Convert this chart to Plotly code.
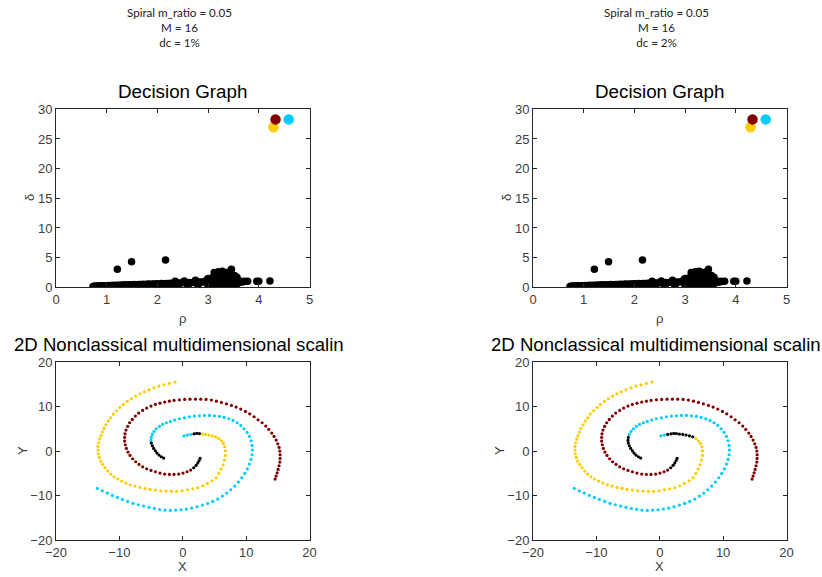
import plotly.graph_objects as go

W, H = 822, 577

# ---------------- Data ----------------
# Decision graph: halo / non-centre points (rho, delta)
BLACK_RHO = [
    0.73, 0.76, 0.79, 0.82, 0.85, 0.88, 0.91, 0.95, 0.99, 1.03,
    1.07, 1.11, 1.15, 1.19, 1.24, 1.28, 1.32, 1.36, 1.40, 1.45,
    1.50, 1.54, 1.58, 1.63, 1.67, 1.72, 1.76, 1.81, 1.85, 1.90,
    1.94, 1.99, 2.03, 2.08, 2.12, 2.17, 2.21, 2.26, 2.30, 2.35,
    2.39, 2.44, 2.48, 2.53, 2.57, 2.62, 2.66, 2.71, 2.75, 2.80,
    2.84, 2.89, 2.93, 2.98,
    0.80, 1.00, 1.20, 1.40, 1.60, 1.80, 2.00, 2.20, 2.40, 2.60, 2.80, 3.00,
    3.00, 3.02, 3.05, 3.08, 3.10, 3.12, 3.15, 3.17, 3.18, 3.20,
    3.22, 3.24, 3.26, 3.28, 3.30, 3.32, 3.33, 3.35, 3.37, 3.38,
    3.40, 3.42, 3.43, 3.45, 3.48, 3.50, 3.52, 3.53, 3.55, 3.57,
    3.58, 3.60, 3.62, 3.65, 3.68, 3.72, 3.25, 3.15, 3.05, 3.35,
    3.45, 3.55,
    1.21, 1.49, 2.16, 3.46, 3.78, 3.96, 4.00, 4.22,
]
BLACK_DELTA = [
    0.15, 0.20, 0.18, 0.22, 0.20, 0.25, 0.22, 0.27, 0.25, 0.30,
    0.28, 0.33, 0.30, 0.36, 0.33, 0.38, 0.36, 0.41, 0.38, 0.43,
    0.41, 0.46, 0.43, 0.48, 0.46, 0.51, 0.48, 0.54, 0.51, 0.56,
    0.54, 0.59, 0.56, 0.62, 0.59, 0.64, 0.62, 0.67, 0.64, 1.00,
    0.70, 0.74, 0.72, 1.05, 0.76, 0.80, 0.78, 0.84, 1.20, 0.86,
    0.90, 0.88, 0.95, 1.30,
    0.05, 0.08, 0.06, 0.10, 0.08, 0.12, 0.10, 0.14, 0.12, 0.16, 0.15, 0.20,
    1.50, 0.60, 1.10, 1.60, 0.80, 2.50, 1.90, 1.20, 0.50, 2.60,
    1.50, 0.90, 2.30, 2.70, 1.70, 1.00, 0.50, 2.20, 2.50, 1.40,
    0.80, 1.90, 2.60, 1.20, 0.60, 1.60, 2.00, 0.90, 1.30, 1.70,
    0.70, 1.10, 0.80, 1.00, 0.90, 1.00, 0.40, 0.40, 0.40, 0.30,
    0.30, 0.40,
    3.03, 4.32, 4.60, 3.05, 1.00, 1.00, 1.00, 1.07,
]
# Decision graph: cluster centres (yellow, dark red, cyan)
CENTER_RHO = [4.29, 4.33, 4.59]
CENTER_DELTA = [26.97, 28.30, 28.30]

# 2D MDS embedding, one arm per cluster, ordered outer end -> inner end
YELLOW_X = [-1.22, -2.11, -2.96, -3.75, -4.53, -5.32, -6.06, -6.75, -7.43, -8.11,
            -8.75, -9.38, -9.90, -10.43, -10.96, -11.38, -11.75, -12.11, -12.43, -12.69,
            -12.90, -13.11, -13.27, -13.38, -13.38, -13.32, -13.17, -12.96, -12.64, -12.27,
            -11.85, -11.38, -10.85, -10.27, -9.64, -8.96, -8.27, -7.53, -6.75, -5.96,
            -5.17, -4.32, -3.48, -2.64, -1.80, -0.96, -0.11, 0.73, 1.57, 2.36,
            3.15, 3.89, 4.62, 5.25, 5.68, 6.05, 6.36, 6.57, 6.73, 6.73,
            6.63, 6.41, 6.10, 5.68, 5.20, 4.68, 4.15, 3.63, 3.10, 2.63,
            2.20, 1.78, 1.26, 0.73, 0.20]
YELLOW_Y = [15.54, 15.24, 14.94, 14.64, 14.26, 13.81, 13.36, 12.91, 12.39, 11.79,
            11.19, 10.51, 9.84, 9.09, 8.34, 7.51, 6.76, 5.94, 5.11, 4.29,
            3.46, 2.71, 1.89, 1.06, 0.24, -0.59, -1.41, -2.24, -2.99, -3.74,
            -4.49, -5.17, -5.77, -6.29, -6.74, -7.19, -7.57, -7.87, -8.17, -8.39,
            -8.62, -8.77, -8.92, -8.99, -9.07, -9.07, -8.92, -8.69, -8.47, -8.24,
            -7.79, -7.27, -6.67, -5.99, -5.02, -4.04, -3.07, -2.01, -0.96, 0.09,
            0.99, 1.74, 2.34, 2.86, 3.24, 3.46, 3.61, 3.76, 3.84, 3.95,
            3.99, 3.91, 3.76, 3.61, 3.46]

RED_X = [14.57, 14.73, 14.89, 15.05, 15.20, 15.31, 15.36, 15.36, 15.31, 15.20,
         14.99, 14.73, 14.41, 14.05, 13.57, 13.10, 12.52, 11.89, 11.26, 10.57,
         9.89, 9.15, 8.42, 7.68, 6.89, 6.10, 5.31, 4.52, 3.68, 2.84,
         2.00, 1.15, 0.31, -0.53, -1.37, -2.11, -2.85, -3.59, -4.32, -5.01,
         -5.69, -6.32, -6.96, -7.48, -7.96, -8.38, -8.69, -8.96, -9.11, -9.17,
         -9.17, -9.06, -8.90, -8.64, -8.32, -7.90, -7.43, -6.90, -6.32, -5.69,
         -5.01, -4.32, -3.59, -2.85, -2.11, -1.38, -0.64, 0.04, 0.68, 1.25,
         1.73, 2.10, 2.36, 2.57, 2.73]
RED_Y = [-6.29, -5.62, -4.87, -4.12, -3.29, -2.47, -1.64, -0.81, 0.01, 0.84,
         1.66, 2.49, 3.31, 4.06, 4.89, 5.64, 6.39, 7.06, 7.74, 8.41,
         8.94, 9.46, 9.91, 10.29, 10.66, 10.96, 11.26, 11.49, 11.64, 11.71,
         11.71, 11.71, 11.64, 11.56, 11.41, 11.26, 11.04, 10.81, 10.51, 10.14,
         9.69, 9.16, 8.56, 7.89, 7.14, 6.39, 5.56, 4.74, 3.91, 3.09,
         2.26, 1.44, 0.61, -0.21, -0.96, -1.71, -2.39, -2.99, -3.52, -3.97,
         -4.34, -4.64, -4.94, -5.17, -5.24, -5.24, -5.17, -4.94, -4.64, -4.27,
         -3.74, -3.21, -2.69, -2.16, -1.64]

CYAN_X = [-13.48, -12.69, -11.90, -11.11, -10.32, -9.53, -8.69, -7.85, -7.01, -6.17,
          -5.32, -4.48, -3.64, -2.80, -1.96, -1.11, -0.27, 0.57, 1.41, 2.25,
          3.10, 3.94, 4.73, 5.52, 6.26, 6.94, 7.57, 8.20, 8.78, 9.31,
          9.78, 10.20, 10.52, 10.78, 10.94, 11.00, 10.94, 10.78, 10.52, 10.15,
          9.68, 9.15, 8.57, 7.94, 7.26, 6.52, 5.78, 4.99, 4.20, 3.42,
          2.63, 1.84, 1.05, 0.26, -0.53, -1.27, -1.96, -2.59, -3.17, -3.69,
          -4.17, -4.53, -4.80, -4.96, -5.01, -4.96, -4.80, -4.59, -4.32, -4.06,
          -3.75, -3.38, -3.01]
CYAN_Y = [-8.39, -8.92, -9.44, -9.97, -10.42, -10.87, -11.32, -11.77, -12.07, -12.37,
          -12.67, -12.89, -13.12, -13.27, -13.34, -13.27, -13.19, -13.04, -12.82, -12.52,
          -12.14, -11.77, -11.32, -10.79, -10.12, -9.44, -8.69, -7.87, -6.97, -5.99,
          -5.02, -3.97, -2.92, -1.86, -0.81, 0.24, 1.29, 2.34, 3.31, 4.21,
          5.04, 5.79, 6.39, 6.91, 7.29, 7.59, 7.81, 7.96, 8.04, 8.04,
          7.96, 7.89, 7.74, 7.51, 7.29, 6.99, 6.69, 6.39, 6.01, 5.56,
          5.04, 4.44, 3.76, 3.09, 2.41, 1.81, 1.21, 0.61, 0.08, -0.44,
          -0.89, -1.26, -1.56]

# Per panel: how many inner-end points of each arm are unassigned (halo, black)
# and, for the yellow arm, how many innermost points were assigned to cyan.
PANEL_DC = ["1%", "2%"]
HALO_TAIL_YELLOW = [3, 9]
CYAN_TAIL_YELLOW = [3, 2]
HALO_TAIL_RED = [5, 5]
HALO_TAIL_CYAN = [8, 10]
M_RATIO = "0.05"
M_VALUE = "16"

# ---------------- Styling ----------------
YELLOW = "#FFCC00"
DARKRED = "#800000"
CYAN = "#00CCFF"
BLACK = "#000000"
AXC = "#262626"
TICKC = "#3c3c3c"
FONT = "Liberation Sans, Arial, sans-serif"

assert len(BLACK_RHO) == len(BLACK_DELTA)
assert len(YELLOW_X) == len(YELLOW_Y)
assert len(RED_X) == len(RED_Y)
assert len(CYAN_X) == len(CYAN_Y)


def px(x):
    return x / W


def py(y):
    return 1 - y / H


fig = go.Figure()

# axis frames in pixels (left column); right column shifted by DX
DX = 477
AX_L, AX_R = 56, 309.5
DG_T, DG_B = 109.3, 287.3
MD_T, MD_B = 362.3, 540.0

annotations = []

for p in range(2):
    off = DX * p
    n = 2 * p
    xa_dg, ya_dg = f"x{n + 1 if n else ''}", f"y{n + 1 if n else ''}"
    xa_md, ya_md = f"x{n + 2}", f"y{n + 2}"

    # decision graph
    fig.add_trace(go.Scatter(x=BLACK_RHO, y=BLACK_DELTA, mode="markers",
                             marker=dict(size=7.5, color=BLACK), xaxis=xa_dg, yaxis=ya_dg,
                             showlegend=False, hoverinfo="skip"))
    for i, col in enumerate([YELLOW, DARKRED, CYAN]):
        fig.add_trace(go.Scatter(x=[CENTER_RHO[i]], y=[CENTER_DELTA[i]], mode="markers",
                                 marker=dict(size=10.5, color=col), xaxis=xa_dg, yaxis=ya_dg,
                                 showlegend=False, hoverinfo="skip"))

    # MDS
    groups = {YELLOW: ([], []), DARKRED: ([], []), CYAN: ([], []), BLACK: ([], [])}
    ny = len(YELLOW_X)
    for i in range(ny):
        if i >= ny - CYAN_TAIL_YELLOW[p]:
            c = CYAN
        elif i >= ny - CYAN_TAIL_YELLOW[p] - HALO_TAIL_YELLOW[p]:
            c = BLACK
        else:
            c = YELLOW
        groups[c][0].append(YELLOW_X[i]); groups[c][1].append(YELLOW_Y[i])
    nr = len(RED_X)
    for i in range(nr):
        c = BLACK if i >= nr - HALO_TAIL_RED[p] else DARKRED
        groups[c][0].append(RED_X[i]); groups[c][1].append(RED_Y[i])
    nc = len(CYAN_X)
    for i in range(nc):
        c = BLACK if i >= nc - HALO_TAIL_CYAN[p] else CYAN
        groups[c][0].append(CYAN_X[i]); groups[c][1].append(CYAN_Y[i])
    for col in [YELLOW, DARKRED, CYAN, BLACK]:
        gx, gy = groups[col]
        fig.add_trace(go.Scatter(x=gx, y=gy, mode="markers",
                                 marker=dict(size=3.2, color=col), xaxis=xa_md, yaxis=ya_md,
                                 showlegend=False, hoverinfo="skip"))

    dom_x = [px(AX_L + off), px(AX_R + off)]
    common = dict(showgrid=False, zeroline=False, showline=True, linecolor=AXC, linewidth=1,
                  mirror="ticks", ticks="inside", ticklen=4, tickcolor=AXC, automargin=False,
                  tickfont=dict(family=FONT, size=13, color=TICKC), fixedrange=True)
    k1 = "" if n == 0 else str(n + 1)
    k2 = str(n + 2)
    fig.update_layout(**{
        f"xaxis{k1}": dict(domain=dom_x, range=[0, 5], tickvals=[0, 1, 2, 3, 4, 5],
                           anchor=ya_dg, **common),
        f"yaxis{k1}": dict(domain=[py(DG_B), py(DG_T)], range=[0, 30],
                           tickvals=[0, 5, 10, 15, 20, 25, 30], anchor=xa_dg, **common),
        f"xaxis{k2}": dict(domain=dom_x, range=[-20, 20], tickvals=[-20, -10, 0, 10, 20],
                           anchor=ya_md, **common),
        f"yaxis{k2}": dict(domain=[py(MD_B), py(MD_T)], range=[-20, 20],
                           tickvals=[-20, -10, 0, 10, 20], anchor=xa_md, **common),
    })

    cx = (AX_L + AX_R) / 2 + off
    ann_common = dict(xref="paper", yref="paper", showarrow=False)
    annotations += [
        dict(text=f"Spiral m_ratio = {M_RATIO}<br>M = {M_VALUE}<br>dc = {PANEL_DC[p]}",
             x=px(179 + off), y=py(4), xanchor="center", yanchor="top", **ann_common,
             font=dict(family="Lato, Open Sans, sans-serif", size=11.6, color="#222222")),
        dict(text="Decision Graph", x=px(cx), y=py(92), xanchor="center", yanchor="middle",
             **ann_common, font=dict(family=FONT, size=18.8, color="#000000")),
        dict(text="2D Nonclassical multidimensional scalin", x=px(12 + off), y=py(344),
             xanchor="left", yanchor="middle", **ann_common,
             font=dict(family=FONT, size=18.6, color="#000000")),
        dict(text="ρ", x=px(cx), y=py(318), xanchor="center", yanchor="middle",
             **ann_common, font=dict(family=FONT, size=13, color=TICKC)),
        dict(text="δ", x=px(29 + off), y=py(198), xanchor="center", yanchor="middle",
             textangle=-90, **ann_common, font=dict(family=FONT, size=13, color=TICKC)),
        dict(text="X", x=px(cx), y=py(566), xanchor="center", yanchor="middle",
             **ann_common, font=dict(family=FONT, size=13, color=TICKC)),
        dict(text="Y", x=px(22 + off), y=py(451), xanchor="center", yanchor="middle",
             textangle=-90, **ann_common, font=dict(family=FONT, size=13, color=TICKC)),
    ]

fig.update_layout(width=W, height=H, margin=dict(l=0, r=0, t=0, b=0),
                  paper_bgcolor="white", plot_bgcolor="white",
                  annotations=annotations, showlegend=False)

fig.write_html("out.html")
